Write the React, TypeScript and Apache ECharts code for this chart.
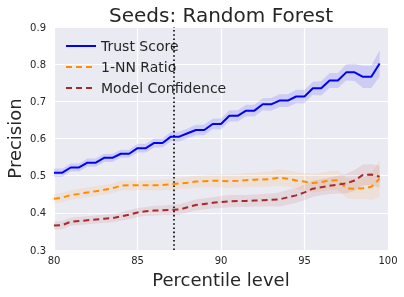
import React, { useEffect, useRef } from "react";
import * as echarts from "echarts";

const percentiles = [
  80, 80.5, 81, 81.5, 82, 82.5, 83, 83.5, 84, 84.5,
  85, 85.5, 86, 86.5, 87, 87.5, 88, 88.5, 89, 89.5,
  90, 90.5, 91, 91.5, 92, 92.5, 93, 93.5, 94, 94.5,
  95, 95.5, 96, 96.5, 97, 97.5, 98, 98.5, 99, 99.5,
];

const trustScore = [
  0.508, 0.508, 0.522, 0.522, 0.535, 0.535, 0.548, 0.548, 0.559, 0.559,
  0.574, 0.574, 0.588, 0.588, 0.605, 0.605, 0.614, 0.623, 0.623, 0.639,
  0.639, 0.661, 0.661, 0.675, 0.675, 0.692, 0.692, 0.702, 0.702, 0.713,
  0.713, 0.735, 0.735, 0.756, 0.756, 0.778, 0.778, 0.766, 0.766, 0.802,
];
const trustBand = [
  0.011, 0.011, 0.011, 0.011, 0.011, 0.011, 0.011, 0.011, 0.011, 0.011,
  0.012, 0.012, 0.012, 0.012, 0.013, 0.013, 0.013, 0.014, 0.014, 0.014,
  0.015, 0.015, 0.015, 0.016, 0.016, 0.016, 0.017, 0.017, 0.017, 0.018,
  0.018, 0.018, 0.019, 0.020, 0.020, 0.022, 0.023, 0.030, 0.030, 0.036,
];

const nnRatio = [
  0.438, 0.441, 0.448, 0.451, 0.455, 0.458, 0.462, 0.466, 0.473, 0.474,
  0.474, 0.474, 0.474, 0.475, 0.477, 0.479, 0.481, 0.484, 0.485, 0.486,
  0.486, 0.485, 0.486, 0.488, 0.489, 0.490, 0.491, 0.495, 0.492, 0.487,
  0.484, 0.480, 0.483, 0.487, 0.488, 0.466, 0.465, 0.466, 0.470, 0.492,
];
const nnBand = [
  0.013, 0.013, 0.013, 0.013, 0.013, 0.013, 0.013, 0.013, 0.013, 0.013,
  0.013, 0.013, 0.014, 0.014, 0.015, 0.015, 0.016, 0.016, 0.017, 0.017,
  0.018, 0.018, 0.018, 0.019, 0.019, 0.020, 0.020, 0.022, 0.022, 0.022,
  0.023, 0.025, 0.025, 0.025, 0.026, 0.027, 0.027, 0.028, 0.035, 0.050,
];

const modelConfidence = [
  0.366, 0.367, 0.376, 0.378, 0.380, 0.382, 0.384, 0.386, 0.390, 0.395,
  0.401, 0.404, 0.406, 0.407, 0.408, 0.409, 0.415, 0.421, 0.424, 0.427,
  0.429, 0.431, 0.432, 0.432, 0.433, 0.434, 0.435, 0.436, 0.442, 0.447,
  0.455, 0.465, 0.469, 0.473, 0.476, 0.479, 0.487, 0.502, 0.503, 0.497,
];
const mcBand = [
  0.011, 0.011, 0.011, 0.011, 0.011, 0.011, 0.011, 0.011, 0.011, 0.012,
  0.012, 0.012, 0.013, 0.013, 0.014, 0.014, 0.014, 0.015, 0.015, 0.015,
  0.016, 0.016, 0.016, 0.016, 0.016, 0.017, 0.017, 0.019, 0.020, 0.020,
  0.021, 0.022, 0.022, 0.022, 0.024, 0.026, 0.028, 0.028, 0.028, 0.030,
];

const xTicks = { min: 80, max: 100, interval: 5 };
const yTicks = { min: 0.3, max: 0.9, interval: 0.1 };
const cutoff = 87.2;

const TITLE = "Seeds: Random Forest";
const FONT = "DejaVu Sans";
const TEXT = "#262626";

function bandSeries(name: string, vals: number[], hw: number[], color: string) {
  return {
    type: "custom",
    name: name + "-band",
    silent: true,
    clip: true,
    z: 1,
    encode: { x: 0, y: [1, 2] },
    data: percentiles.map((x, i) => [x, vals[i] - hw[i], vals[i] + hw[i]]),
    renderItem: (params: any, api: any) => {
      if (params.dataIndex !== 0) return null;
      const upper = percentiles.map((x, i) => api.coord([x, vals[i] + hw[i]]));
      const lower = percentiles
        .map((x, i) => api.coord([x, vals[i] - hw[i]]))
        .reverse();
      return {
        type: "polygon",
        shape: { points: upper.concat(lower) },
        style: { fill: color, stroke: "none" },
        silent: true,
      };
    },
  };
}

export default function App() {
  const ref = useRef<HTMLDivElement>(null);
  useEffect(() => {
    if (!ref.current) return;
    const chart = echarts.init(ref.current, undefined, { renderer: "svg" });
    const option: any = {
      animation: false,
      textStyle: { fontFamily: FONT },
      grid: {
        left: 54,
        right: 16,
        top: 27,
        bottom: 47,
        show: true,
        backgroundColor: "#EAEAF2",
        borderWidth: 0,
        containLabel: false,
        outerBoundsMode: "none",
      },
      graphic: [
        {
          type: "text",
          x: 221,
          y: 15,
          style: {
            text: TITLE,
            fontSize: 20,
            fontFamily: FONT,
            fill: TEXT,
            align: "center",
            verticalAlign: "middle",
          },
        },
      ],
      legend: {
        data: ["Trust Score", "1-NN Ratio", "Model Confidence"],
        orient: "vertical",
        left: 65,
        top: 39,
        padding: 0,
        itemWidth: 30,
        itemHeight: 14,
        itemGap: 7,
        itemTextGap: 10,
        itemStyle: { opacity: 0 },
        textStyle: { fontSize: 14, color: TEXT, fontFamily: FONT, lineHeight: 14 },
      },
      xAxis: {
        type: "value",
        min: xTicks.min,
        max: xTicks.max,
        interval: xTicks.interval,
        name: "Percentile level",
        nameLocation: "middle",
        nameGap: 20,
        nameMoveOverlap: false,
        nameTextStyle: { fontSize: 18, color: TEXT, fontFamily: FONT },
        axisLine: { show: false },
        axisTick: { show: false },
        axisLabel: { color: TEXT, fontSize: 10, margin: 5, fontFamily: FONT },
        splitLine: { show: true, lineStyle: { color: "#ffffff", width: 1.2 } },
      },
      yAxis: {
        type: "value",
        min: yTicks.min,
        max: yTicks.max,
        interval: yTicks.interval,
        name: "Precision",
        nameLocation: "middle",
        nameGap: 31,
        nameMoveOverlap: false,
        nameTextStyle: { fontSize: 18, color: TEXT, fontFamily: FONT },
        axisLine: { show: false },
        axisTick: { show: false },
        axisLabel: {
          color: TEXT,
          fontSize: 10,
          margin: 8,
          fontFamily: FONT,
          formatter: (v: number) => v.toFixed(1),
        },
        splitLine: { show: true, lineStyle: { color: "#ffffff", width: 1.2 } },
      },
      series: [
        bandSeries("trust", trustScore, trustBand, "rgba(0,0,255,0.12)"),
        bandSeries("nn", nnRatio, nnBand, "rgba(255,140,0,0.10)"),
        bandSeries("mc", modelConfidence, mcBand, "rgba(165,42,42,0.10)"),
        {
          type: "line",
          name: "Trust Score",
          symbol: "none",
          color: "#0000ff",
          lineStyle: { color: "#0000ff", width: 2 },
          data: percentiles.map((x, i) => [x, trustScore[i]]),
          z: 3,
          markLine: {
            silent: true,
            symbol: ["none", "none"],
            label: { show: false },
            lineStyle: { color: "#000000", width: 1.6, type: [1.6, 2.6] },
            data: [{ xAxis: cutoff }],
          },
        },
        {
          type: "line",
          name: "1-NN Ratio",
          symbol: "none",
          color: "#ff8c00",
          lineStyle: { color: "#ff8c00", width: 2, type: [6, 4] },
          data: percentiles.map((x, i) => [x, nnRatio[i]]),
          z: 3,
        },
        {
          type: "line",
          name: "Model Confidence",
          symbol: "none",
          color: "#a52a2a",
          lineStyle: { color: "#a52a2a", width: 2, type: [6, 4] },
          data: percentiles.map((x, i) => [x, modelConfidence[i]]),
          z: 3,
        },
      ],
    };
    chart.setOption(option);
    return () => chart.dispose();
  }, []);
  return (
    <div
      ref={ref}
      style={{ position: "fixed", left: 0, top: 0, width: 404, height: 297 }}
    />
  );
}
